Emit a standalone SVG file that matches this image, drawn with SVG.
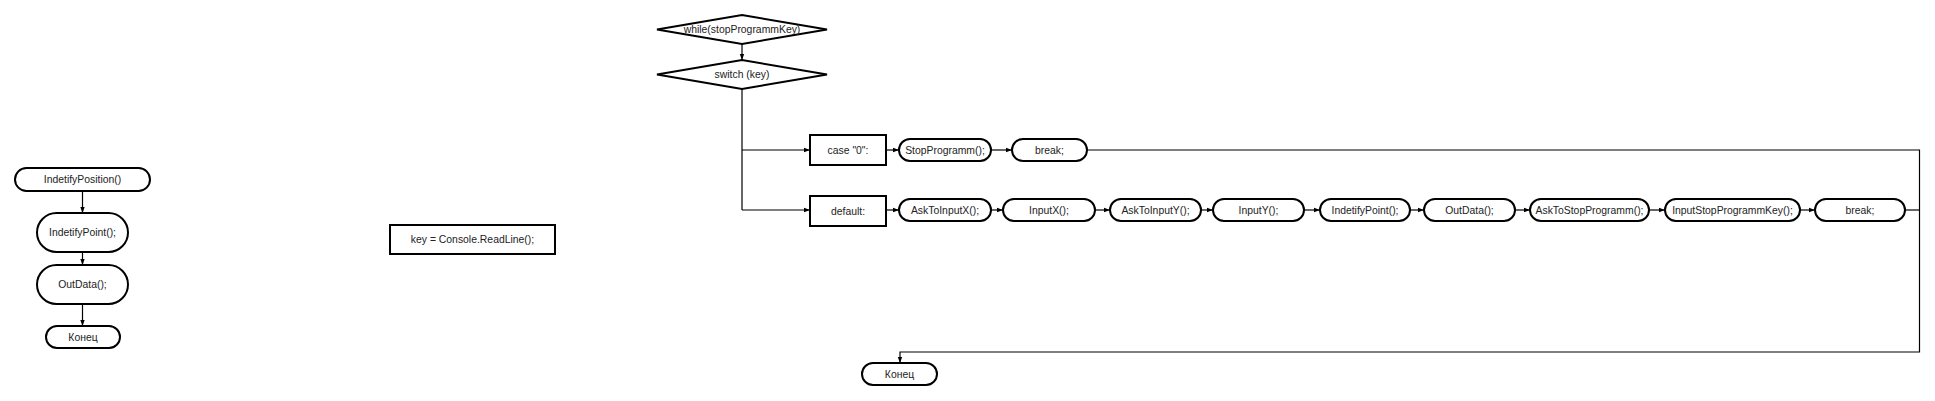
<svg xmlns="http://www.w3.org/2000/svg" width="1935" height="401" viewBox="0 0 1935 401">
<style>
.n{fill:#fff;stroke:#000;stroke-width:2}
.t{font-family:"Liberation Sans",Arial,sans-serif;font-size:10.4px;fill:#222;text-anchor:middle;dominant-baseline:central}
.c{fill:none;stroke:#000;stroke-width:1.2}
</style>
<defs>
<marker id="a" markerUnits="userSpaceOnUse" markerWidth="6" markerHeight="6" refX="6" refY="3" orient="auto">
<path d="M0,0.8 L6,3 L0,5.2 z" fill="#000"/>
</marker>
</defs>
<rect width="1935" height="401" fill="#fff"/>
<g id="connectors">
<path class="c" d="M82.5,191 V213" marker-end="url(#a)"/>
<path class="c" d="M82.5,252 V265" marker-end="url(#a)"/>
<path class="c" d="M82.5,304 V326" marker-end="url(#a)"/>
<path class="c" d="M742,44 V60" marker-end="url(#a)"/>
<path class="c" d="M742,89 V210"/>
<path class="c" d="M742,150 H810" marker-end="url(#a)"/>
<path class="c" d="M742,210 H810" marker-end="url(#a)"/>
<path class="c" d="M886,150 H899" marker-end="url(#a)"/>
<path class="c" d="M991,150 H1012" marker-end="url(#a)"/>
<path class="c" d="M886,210 H899" marker-end="url(#a)"/>
<path class="c" d="M991,210 H1003" marker-end="url(#a)"/>
<path class="c" d="M1095,210 H1110" marker-end="url(#a)"/>
<path class="c" d="M1201,210 H1213" marker-end="url(#a)"/>
<path class="c" d="M1304,210 H1320" marker-end="url(#a)"/>
<path class="c" d="M1410,210 H1424" marker-end="url(#a)"/>
<path class="c" d="M1515,210 H1530" marker-end="url(#a)"/>
<path class="c" d="M1649,210 H1665" marker-end="url(#a)"/>
<path class="c" d="M1800,210 H1815" marker-end="url(#a)"/>
<path class="c" d="M1905,210 H1919.5"/>
<path class="c" d="M1087,150 H1919.5 V352 H900 V363" marker-end="url(#a)"/>
</g>
<g id="n-identifyposition"><rect class="n" x="15" y="168" width="135" height="23" rx="11.5"/><text class="t" x="82.5" y="179.5">IndetifyPosition()</text></g>
<g id="n-identifypoint-left"><rect class="n" x="37" y="213" width="91" height="39" rx="19.5"/><text class="t" x="82.5" y="232.5">IndetifyPoint();</text></g>
<g id="n-outdata-left"><rect class="n" x="37" y="265" width="91" height="39" rx="19.5"/><text class="t" x="82.5" y="284.5">OutData();</text></g>
<g id="n-end-left"><rect class="n" x="46" y="326" width="74" height="22" rx="11"/><text class="t" x="83" y="337">Конец</text></g>
<g id="n-readline"><rect class="n" x="390" y="225" width="165" height="29"/><text class="t" x="472.5" y="239.5">key = Console.ReadLine();</text></g>
<g id="n-while"><polygon class="n" points="657,29.5 742,15 827,29.5 742,44"/><text class="t" x="742" y="29.5">while(stopProgrammKey)</text></g>
<g id="n-switch"><polygon class="n" points="657,74.5 742,60 827,74.5 742,89"/><text class="t" x="742" y="74.5">switch (key)</text></g>
<g id="n-case0"><rect class="n" x="810" y="135" width="76" height="30"/><text class="t" x="848" y="150">case "0":</text></g>
<g id="n-default"><rect class="n" x="810" y="196" width="76" height="30"/><text class="t" x="848" y="211">default:</text></g>
<g id="n-stopprogramm"><rect class="n" x="899" y="139" width="92" height="22" rx="11"/><text class="t" x="945" y="150">StopProgramm();</text></g>
<g id="n-break1"><rect class="n" x="1012" y="139" width="75" height="22" rx="11"/><text class="t" x="1049.5" y="150">break;</text></g>
<g id="n-asktoinputx"><rect class="n" x="899" y="199" width="92" height="22" rx="11"/><text class="t" x="945" y="210">AskToInputX();</text></g>
<g id="n-inputx"><rect class="n" x="1003" y="199" width="92" height="22" rx="11"/><text class="t" x="1049" y="210">InputX();</text></g>
<g id="n-asktoinputy"><rect class="n" x="1110" y="199" width="91" height="22" rx="11"/><text class="t" x="1155.5" y="210">AskToInputY();</text></g>
<g id="n-inputy"><rect class="n" x="1213" y="199" width="91" height="22" rx="11"/><text class="t" x="1258.5" y="210">InputY();</text></g>
<g id="n-identifypoint"><rect class="n" x="1320" y="199" width="90" height="22" rx="11"/><text class="t" x="1365" y="210">IndetifyPoint();</text></g>
<g id="n-outdata"><rect class="n" x="1424" y="199" width="91" height="22" rx="11"/><text class="t" x="1469.5" y="210">OutData();</text></g>
<g id="n-asktostop"><rect class="n" x="1530" y="199" width="119" height="22" rx="11"/><text class="t" x="1589.5" y="210">AskToStopProgramm();</text></g>
<g id="n-inputstopkey"><rect class="n" x="1665" y="199" width="135" height="22" rx="11"/><text class="t" x="1732.5" y="210">InputStopProgrammKey();</text></g>
<g id="n-break2"><rect class="n" x="1815" y="199" width="90" height="22" rx="11"/><text class="t" x="1860" y="210">break;</text></g>
<g id="n-end"><rect class="n" x="862" y="363" width="75" height="22" rx="11"/><text class="t" x="899.5" y="374">Конец</text></g>
</svg>
